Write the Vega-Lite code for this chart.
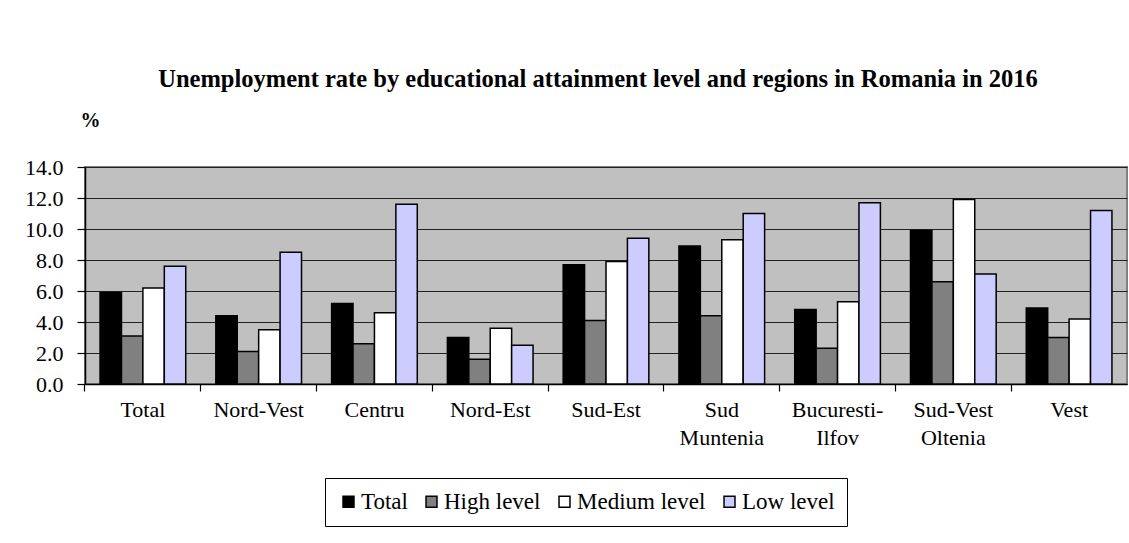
{
  "$schema": "https://vega.github.io/schema/vega-lite/v6.json",
  "autosize": "none",
  "width": 1042,
  "height": 217,
  "padding": {"left": 85, "top": 167, "right": 2, "bottom": 159},
  "background": "white",
  "title": {
    "text": "Unemployment rate by educational attainment level and regions in Romania in 2016",
    "font": "Liberation Serif",
    "fontSize": 24.5,
    "fontWeight": "bold",
    "color": "black",
    "frame": "group",
    "anchor": "middle",
    "dx": -8,
    "offset": 18
  },
  "data": {
    "values": [
      {"region": "Total", "level": "Total", "rate": 5.9},
      {"region": "Total", "level": "High level", "rate": 3.1},
      {"region": "Total", "level": "Medium level", "rate": 6.2},
      {"region": "Total", "level": "Low level", "rate": 7.6},
      {"region": "Nord-Vest", "level": "Total", "rate": 4.4},
      {"region": "Nord-Vest", "level": "High level", "rate": 2.1},
      {"region": "Nord-Vest", "level": "Medium level", "rate": 3.5},
      {"region": "Nord-Vest", "level": "Low level", "rate": 8.5},
      {"region": "Centru", "level": "Total", "rate": 5.2},
      {"region": "Centru", "level": "High level", "rate": 2.6},
      {"region": "Centru", "level": "Medium level", "rate": 4.6},
      {"region": "Centru", "level": "Low level", "rate": 11.6},
      {"region": "Nord-Est", "level": "Total", "rate": 3.0},
      {"region": "Nord-Est", "level": "High level", "rate": 1.6},
      {"region": "Nord-Est", "level": "Medium level", "rate": 3.6},
      {"region": "Nord-Est", "level": "Low level", "rate": 2.5},
      {"region": "Sud-Est", "level": "Total", "rate": 7.7},
      {"region": "Sud-Est", "level": "High level", "rate": 4.1},
      {"region": "Sud-Est", "level": "Medium level", "rate": 7.9},
      {"region": "Sud-Est", "level": "Low level", "rate": 9.4},
      {"region": "Sud Muntenia", "level": "Total", "rate": 8.9},
      {"region": "Sud Muntenia", "level": "High level", "rate": 4.4},
      {"region": "Sud Muntenia", "level": "Medium level", "rate": 9.3},
      {"region": "Sud Muntenia", "level": "Low level", "rate": 11.0},
      {"region": "Bucuresti-Ilfov", "level": "Total", "rate": 4.8},
      {"region": "Bucuresti-Ilfov", "level": "High level", "rate": 2.3},
      {"region": "Bucuresti-Ilfov", "level": "Medium level", "rate": 5.3},
      {"region": "Bucuresti-Ilfov", "level": "Low level", "rate": 11.7},
      {"region": "Sud-Vest Oltenia", "level": "Total", "rate": 9.9},
      {"region": "Sud-Vest Oltenia", "level": "High level", "rate": 6.6},
      {"region": "Sud-Vest Oltenia", "level": "Medium level", "rate": 11.9},
      {"region": "Sud-Vest Oltenia", "level": "Low level", "rate": 7.1},
      {"region": "Vest", "level": "Total", "rate": 4.9},
      {"region": "Vest", "level": "High level", "rate": 3.0},
      {"region": "Vest", "level": "Medium level", "rate": 4.2},
      {"region": "Vest", "level": "Low level", "rate": 11.2}
    ]
  },
  "mark": {"type": "bar", "stroke": "black", "strokeWidth": 1.5},
  "encoding": {
    "x": {
      "field": "region",
      "type": "nominal",
      "sort": ["Total", "Nord-Vest", "Centru", "Nord-Est", "Sud-Est", "Sud Muntenia", "Bucuresti-Ilfov", "Sud-Vest Oltenia", "Vest"],
      "scale": {"paddingInner": 0.26, "paddingOuter": 0.13},
      "axis": {
        "title": null,
        "labelAngle": 0,
        "bandPosition": -0.1757,
        "labelExpr": "datum.value == 'Bucuresti-Ilfov' ? ['Bucuresti-', 'Ilfov'] : datum.value == 'Sud Muntenia' ? ['Sud', 'Muntenia'] : datum.value == 'Sud-Vest Oltenia' ? ['Sud-Vest', 'Oltenia'] : datum.value",
        "labelFont": "Liberation Serif",
        "labelFontSize": 22,
        "labelColor": "black",
        "labelLineHeight": 28,
        "labelPadding": 8,
        "labelBaseline": "top",
        "domainColor": "black",
        "domainWidth": 1.5,
        "tickColor": "black",
        "tickSize": 7,
        "tickWidth": 1.2,
        "grid": false
      }
    },
    "xOffset": {
      "field": "level",
      "type": "nominal",
      "sort": ["Total", "High level", "Medium level", "Low level"],
      "scale": {"paddingInner": 0, "paddingOuter": 0}
    },
    "y": {
      "field": "rate",
      "type": "quantitative",
      "scale": {"domain": [0, 14], "nice": false},
      "axis": {
        "title": "%",
        "titleAngle": 0,
        "titleX": 5,
        "titleY": -47,
        "titleFont": "Liberation Serif",
        "titleFontSize": 20,
        "titleFontWeight": "bold",
        "titleColor": "black",
        "titleAlign": "center",
        "titleBaseline": "middle",
        "values": [0, 2, 4, 6, 8, 10, 12, 14],
        "format": ".1f",
        "labelFont": "Liberation Serif",
        "labelFontSize": 22,
        "labelColor": "black",
        "labelPadding": 14,
        "domainColor": "black",
        "domainWidth": 1.5,
        "tickColor": "black",
        "tickSize": 8,
        "tickWidth": 1.2,
        "grid": true,
        "gridColor": "#222222",
        "gridWidth": 1.2
      }
    },
    "color": {
      "field": "level",
      "type": "nominal",
      "sort": ["Total", "High level", "Medium level", "Low level"],
      "scale": {
        "domain": ["Total", "High level", "Medium level", "Low level"],
        "range": ["#000000", "#808080", "#FFFFFF", "#CCCCFF"]
      },
      "legend": {
        "title": null,
        "orient": "none",
        "legendX": 240,
        "legendY": 311,
        "direction": "horizontal",
        "columns": 4,
        "symbolType": "square",
        "symbolSize": 120,
        "symbolStrokeColor": "black",
        "symbolStrokeWidth": 1.5,
        "symbolOpacity": 1,
        "labelFont": "Liberation Serif",
        "labelFontSize": 23,
        "labelColor": "black",
        "labelOffset": 1,
        "columnPadding": 12,
        "padding": 12,
        "strokeColor": "black",
        "fillColor": "white"
      }
    }
  },
  "config": {
    "view": {"fill": "#C0C0C0", "stroke": "#808080", "strokeWidth": 2}
  }
}
